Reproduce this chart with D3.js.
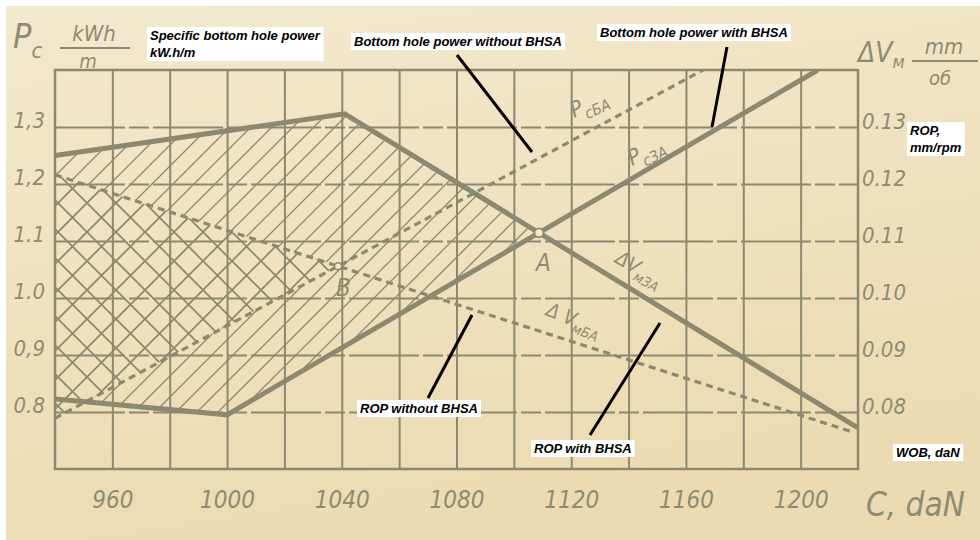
<!DOCTYPE html>
<html>
<head>
<meta charset="utf-8">
<script src="https://cdn.jsdelivr.net/npm/d3@7"></script>
<style>
  body { margin: 0; background: #fff; }
  svg { display: block; }
  .hand { font-family: 'Liberation Sans Narrow', 'DejaVu Sans Condensed', 'Liberation Sans', sans-serif; font-style: italic; fill: #8e8b73; }
  .note { font-family: 'Liberation Sans', Arial, sans-serif; font-weight: bold; font-style: italic; font-size: 13px; fill: #000; }
</style>
</head>
<body>
<div id="viz"></div>
<script>
// tick labels
const wobTicks = [960, 1000, 1040, 1080, 1120, 1160, 1200];
const powerTicks = [0.8, 0.9, 1.0, 1.1, 1.2, 1.3];
const powerLabels = ['0.8', '0,9', '1.0', '1.1', '1,2', '1,3'];
const ropTicks = [0.08, 0.09, 0.10, 0.11, 0.12, 0.13];
const ropLabels = ['0.08', '0.09', '0.10', '0.11', '0.12', '0.13'];

// curves: [WOB daN, value]
const pcWith = [[940, 0.823], [1000, 0.795], [1206, 1.4]];      // Pc ZA, kW.h/m
const pcWithout = [[940, 0.789], [1166, 1.4]];                   // Pc BA, kW.h/m
const ropWith = [[940, 0.1250], [1041, 0.1323], [1220, 0.0772]]; // dV ZA, mm/rev
const ropWithout = [[940, 0.1216], [1218, 0.0765]];              // dV BA, mm/rev

const w = 980, h = 540;
const pL = 55, pR = 858, pT = 70, pB0 = 469;
const ink = '#8c8970';

const x = d3.scaleLinear().domain([940, 1220]).range([pL, pR]);
const yL = d3.scaleLinear().domain([0.7, 1.4]).range([pB0, pT]);
const yR = d3.scaleLinear().domain([0.07, 0.14]).range([pB0, pT]);

const svg = d3.select('#viz').append('svg').attr('width', w).attr('height', h);
const defs = svg.append('defs');

// paper
const grad = defs.append('linearGradient').attr('id', 'paper')
  .attr('x1', 0).attr('y1', 0).attr('x2', 0.3).attr('y2', 1);
grad.append('stop').attr('offset', 0).attr('stop-color', '#f3e9cf');
grad.append('stop').attr('offset', 1).attr('stop-color', '#ecdbb2');
svg.append('rect').attr('x', 6).attr('y', 6).attr('width', w - 6).attr('height', h - 6)
  .attr('fill', 'url(#paper)');

// hatch patterns
const s1 = 21;
defs.append('pattern').attr('id', 'fwd').attr('patternUnits', 'userSpaceOnUse')
  .attr('width', s1).attr('height', s1)
  .append('path')
  .attr('d', `M0,${s1} L${s1},0 M-2,2 L2,-2 M${s1 - 2},${s1 + 2} L${s1 + 2},${s1 - 2}`)
  .attr('stroke', ink).attr('stroke-width', 1.3);
const s2 = 29;
defs.append('pattern').attr('id', 'cross').attr('patternUnits', 'userSpaceOnUse')
  .attr('width', s2).attr('height', s2)
  .append('path')
  .attr('d', `M0,${s2} L${s2},0 M-3,3 L3,-3 M${s2 - 3},${s2 + 3} L${s2 + 3},${s2 - 3}` +
    ` M0,0 L${s2},${s2} M-3,${s2 - 3} L3,${s2 + 3} M${s2 - 3},-3 L${s2 + 3},3`)
  .attr('stroke', ink).attr('stroke-width', 1.8);

defs.append('clipPath').attr('id', 'plot').append('rect')
  .attr('x', pL).attr('y', pT).attr('width', pR - pL).attr('height', pB0 - pT);

// pixel points
const px = (data, ys) => data.map(d => [x(d[0]), ys(d[1])]);
const pW = px(pcWith, yL), pB = px(pcWithout, yL);
const rW = px(ropWith, yR), rB = px(ropWithout, yR);

function intersect(a, b) {
  for (let i = 0; i < a.length - 1; i++) {
    for (let j = 0; j < b.length - 1; j++) {
      const [x1, y1] = a[i], [x2, y2] = a[i + 1], [x3, y3] = b[j], [x4, y4] = b[j + 1];
      const den = (x1 - x2) * (y3 - y4) - (y1 - y2) * (x3 - x4);
      if (den === 0) continue;
      const t = ((x1 - x3) * (y3 - y4) - (y1 - y3) * (x3 - x4)) / den;
      const u = -((x1 - x2) * (y1 - y3) - (y1 - y2) * (x1 - x3)) / den;
      if (t >= 0 && t <= 1 && u >= 0 && u <= 1) {
        return { p: [x1 + t * (x2 - x1), y1 + t * (y2 - y1)], i: i, j: j };
      }
    }
  }
}
function region(upper, lower) {
  const k = intersect(upper, lower);
  const up = upper.slice(0, k.i + 1).concat([k.p]);
  const lo = lower.slice(0, k.j + 1).concat([k.p]);
  return { poly: up.concat(lo.reverse()), p: k.p };
}
const zoneA = region(rW, pW);
const zoneB = region(rB, pB);

const m = defs.append('mask').attr('id', 'onlyA').attr('maskUnits', 'userSpaceOnUse')
  .attr('x', 0).attr('y', 0).attr('width', w).attr('height', h);
m.append('polygon').attr('points', zoneA.poly.join(' ')).attr('fill', '#fff');
m.append('polygon').attr('points', zoneB.poly.join(' ')).attr('fill', '#000');

const plot = svg.append('g').attr('clip-path', 'url(#plot)');
plot.append('polygon').attr('points', zoneA.poly.join(' '))
  .attr('fill', 'url(#fwd)').attr('mask', 'url(#onlyA)');
plot.append('polygon').attr('points', zoneB.poly.join(' '))
  .attr('fill', 'url(#cross)');

// grid
svg.append('g').attr('transform', `translate(0,${pB0})`)
  .call(d3.axisBottom(x).tickValues(d3.range(960, 1220, 20)).tickSize(-(pB0 - pT)).tickFormat(''))
  .call(g => g.select('.domain').remove())
  .selectAll('line').attr('stroke', ink).attr('stroke-width', 2);
svg.append('g').attr('transform', `translate(${pL},0)`)
  .call(d3.axisLeft(yL).tickValues(powerTicks).tickSize(-(pR - pL)).tickFormat(''))
  .call(g => g.select('.domain').remove())
  .selectAll('line').attr('stroke', ink).attr('stroke-width', 2).attr('stroke-dasharray', '70,4,20,4');
svg.append('rect').attr('x', pL).attr('y', pT).attr('width', pR - pL).attr('height', pB0 - pT)
  .attr('fill', 'none').attr('stroke', ink).attr('stroke-width', 2.5);

// tick labels
svg.append('g').attr('transform', `translate(0,${pB0})`)
  .call(d3.axisBottom(x).tickValues(wobTicks).tickSize(0).tickPadding(22).tickFormat(d3.format('d')))
  .call(g => g.select('.domain').remove())
  .selectAll('text').attr('class', 'hand').style('font-size', '24px');
svg.append('g').attr('transform', `translate(${pL},0)`)
  .call(d3.axisLeft(yL).tickValues(powerTicks).tickSize(0).tickPadding(10).tickFormat((d, i) => powerLabels[i]))
  .call(g => g.select('.domain').remove())
  .selectAll('text').attr('class', 'hand').style('font-size', '22px').attr('y', -7);
svg.append('g').attr('transform', `translate(${pR},0)`)
  .call(d3.axisRight(yR).tickValues(ropTicks).tickSize(0).tickPadding(4).tickFormat((d, i) => ropLabels[i]))
  .call(g => g.select('.domain').remove())
  .selectAll('text').attr('class', 'hand').style('font-size', '22px').attr('y', -6);

// curves
const line = ys => d3.line().x(d => x(d[0])).y(d => ys(d[1]));
const curves = plot.append('g').attr('fill', 'none').attr('stroke', ink);
curves.append('path').datum(pcWith).attr('d', line(yL)).attr('stroke-width', 5);
curves.append('path').datum(ropWith).attr('d', line(yR)).attr('stroke-width', 5);
curves.append('path').datum(pcWithout).attr('d', line(yL)).attr('stroke-width', 3.2).attr('stroke-dasharray', '7,5');
curves.append('path').datum(ropWithout).attr('d', line(yR)).attr('stroke-width', 3.2).attr('stroke-dasharray', '7,5');

svg.append('circle').attr('cx', zoneA.p[0]).attr('cy', zoneA.p[1]).attr('r', 4.5)
  .attr('fill', '#f3ead2').attr('stroke', ink).attr('stroke-width', 1.8);
svg.append('circle').attr('cx', zoneB.p[0]).attr('cy', zoneB.p[1]).attr('r', 3.5)
  .attr('fill', '#f3ead2').attr('stroke', ink).attr('stroke-width', 1.5);
svg.append('text').attr('class', 'hand').attr('x', zoneA.p[0] - 3).attr('y', zoneA.p[1] + 38)
  .style('font-size', '24px').text('A');
svg.append('text').attr('class', 'hand').attr('x', zoneB.p[0] - 2).attr('y', zoneB.p[1] + 30)
  .style('font-size', '24px').text('B');

// handwritten curve labels
function handLabel(tx, ty, rot, main, sub, size) {
  const t = svg.append('text').attr('class', 'hand').style('font-size', size + 'px')
    .attr('transform', `translate(${tx},${ty}) rotate(${rot})`);
  t.append('tspan').text(main);
  t.append('tspan').attr('dy', size * 0.3).style('font-size', (size * 0.7) + 'px').text(sub);
}
handLabel(574, 118, -24, 'P', 'сБА', 22);
handLabel(632, 166, -26, 'P', 'сЗА', 22);
handLabel(614, 262, 30, 'ΔV', 'мЗА', 20);
handLabel(545, 315, 22, 'Δ V', 'мБА', 20);

// axis titles
const lt = svg.append('text').attr('class', 'hand').attr('x', 13).attr('y', 48).style('font-size', '34px');
lt.append('tspan').text('P');
lt.append('tspan').attr('dy', 10).style('font-size', '22px').text('c');
svg.append('text').attr('class', 'hand').attr('x', 94).attr('y', 41).attr('text-anchor', 'middle')
  .style('font-size', '22px').text('kWh');
svg.append('line').attr('x1', 60).attr('x2', 130).attr('y1', 48).attr('y2', 48)
  .attr('stroke', ink).attr('stroke-width', 2);
svg.append('text').attr('class', 'hand').attr('x', 88).attr('y', 68).attr('text-anchor', 'middle')
  .style('font-size', '20px').text('m');

const rt = svg.append('text').attr('class', 'hand').attr('x', 858).attr('y', 62).style('font-size', '28px');
rt.append('tspan').text('ΔV');
rt.append('tspan').attr('dy', 6).style('font-size', '18px').text('м');
svg.append('text').attr('class', 'hand').attr('x', 944).attr('y', 54).attr('text-anchor', 'middle')
  .style('font-size', '22px').text('mm');
svg.append('line').attr('x1', 912).attr('x2', 978).attr('y1', 61).attr('y2', 61)
  .attr('stroke', ink).attr('stroke-width', 2);
svg.append('text').attr('class', 'hand').attr('x', 940).attr('y', 85).attr('text-anchor', 'middle')
  .style('font-size', '20px').text('об');
svg.append('text').attr('class', 'hand').attr('x', 866).attr('y', 516)
  .style('font-size', '33px').text('C, daN');

// white notes and pointers
function note(tx, ty, lines) {
  const g = svg.append('g');
  const t = g.append('text').attr('class', 'note');
  lines.forEach((s, i) => t.append('tspan').attr('x', tx).attr('y', ty + i * 17).text(s));
  const b = t.node().getBBox();
  g.insert('rect', 'text').attr('x', b.x - 3).attr('y', b.y - 1)
    .attr('width', b.width + 6).attr('height', b.height + 2).attr('fill', '#fff');
}
note(150, 40, ['Specific bottom hole power', 'kW.h/m']);
note(354, 46, ['Bottom hole power without BHSA']);
note(600, 37, ['Bottom hole power with BHSA']);
note(910, 135, ['ROP,', 'mm/rpm']);
note(360, 413, ['ROP without BHSA']);
note(534, 453, ['ROP with BHSA']);
note(896, 457, ['WOB, daN']);

const pointers = [[457, 55, 532, 152], [727, 47, 712, 127], [472, 315, 428, 398], [660, 323, 590, 435]];
svg.selectAll('.ptr').data(pointers).enter().append('line').attr('class', 'ptr')
  .attr('x1', d => d[0]).attr('y1', d => d[1]).attr('x2', d => d[2]).attr('y2', d => d[3])
  .attr('stroke', '#000').attr('stroke-width', 3);
</script>
</body>
</html>
